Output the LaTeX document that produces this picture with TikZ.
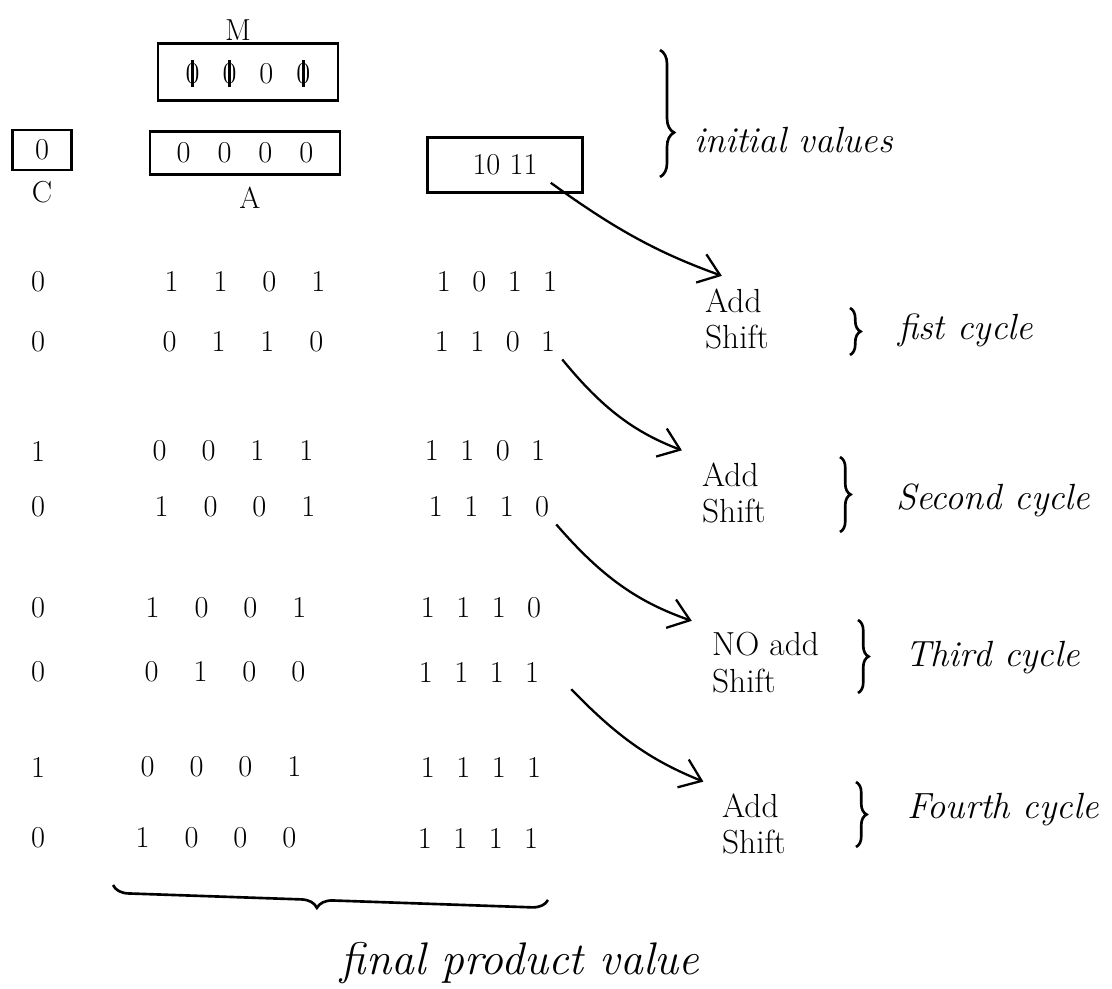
\documentclass[tikz,border=0pt]{standalone}
\usetikzlibrary{arrows.meta,decorations.pathreplacing}

% a zero with a bar through it
\newcommand{\xo}{\ooalign{\hidewidth\rule[-.12em]{.09em}{.9em}\hidewidth\cr 0\cr}}

\begin{document}
\begin{tikzpicture}[x=0.02cm,y=-0.02cm,line width=1.5pt,
  reg/.style={draw,rectangle,font=\LARGE},
  lbl/.style={font=\LARGE},
  bits/.style={font={\LARGE\spaceskip=#1\relax}},
  op/.style={font=\fontsize{19}{21}\selectfont,align=left,anchor=west},
  cyc/.style={font=\huge\itshape,anchor=west},
  arr/.style={-{Straight Barb[length=4mm,width=6mm]},line width=1.3pt,shorten >=#1},
  curly/.style={decorate,decoration={brace,amplitude=#1}}]
\useasboundingbox (0,0) rectangle (1112,989);

% registers before the first cycle
\node[lbl] (mlab) at (238,30) {M};
\node[reg,minimum width=3.6cm,minimum height=1.14cm,bits=0.46cm] (mreg) at (248,72) {\xo{} \xo{} 0 \xo};
\node[reg,minimum width=1.18cm,minimum height=0.8cm] (creg) at (42,150) {0};
\node[lbl] (clab) at (42,192) {C};
\node[reg,minimum width=3.8cm,minimum height=0.86cm,bits=0.54cm] (areg) at (245,153) {0 0 0 0};
\node[lbl] (alab) at (250,198) {A};
\node[reg,minimum width=3.1cm,minimum height=1.1cm] (qreg) at (505,165) {10 11};
\draw[curly=8pt,decoration={aspect=0.65}] (660,50) -- (660,177);
\node[cyc] (init) at (687,140) {initial values};

% C, A and Q after every add and shift
\foreach \n/\y/\c/\xa/\a/\xq/\q in {
  1/282/0/245/1 1 0 1/497/1 0 1 1,
  2/342/0/243/0 1 1 0/495/1 1 0 1,
  3/451/1/233/0 0 1 1/485/1 1 0 1,
  4/507/0/235/1 0 0 1/489/1 1 1 0,
  5/608/0/226/1 0 0 1/481/1 1 1 0,
  6/672/0/225/0 1 0 0/479/1 1 1 1,
  7/767/1/221/0 0 0 1/481/1 1 1 1,
  8/838/0/216/1 0 0 0/478/1 1 1 1}{
  \node[lbl] (c\n) at (38,\y) {\c};
  \node[bits=0.7cm] (a\n) at (\xa,\y) {\a};
  \node[bits=0.43cm] (q\n) at (\xq,\y) {\q};
}

% operations of each cycle
\node[op] (op1) at (698,319) {Add\\Shift};
\node[op] (op2) at (695,493) {Add\\Shift};
\node[op] (op3) at (705,663) {NO add\\Shift};
\node[op] (op4) at (715,824) {Add\\Shift};

\draw[curly=6pt] (850,308) -- (850,355);
\draw[curly=6pt] (840,457) -- (840,532);
\draw[curly=6pt] (858,620) -- (858,693);
\draw[curly=6pt] (856,782) -- (856,847);
\node[cyc] (cyc1) at (891,330) {fist cycle};
\node[cyc] (cyc2) at (889,500) {Second cycle};
\node[cyc] (cyc3) at (898,658) {Third cycle};
\node[cyc] (cyc4) at (900,810) {Fourth cycle};

\draw[arr=0.32cm] ([xshift=-0.66cm,yshift=0.22cm]qreg.south east) to[bend right=8] (op1.north);
\draw[arr=0.28cm] (q2.south east) to[bend right=15] (op2.north west);
\draw[arr=0.28cm] (q4.south east) to[bend right=15] (op3.north west);
\draw[arr=0.25cm] ([xshift=0.5cm]q6.south east) to[bend right=12] (op4.north west);

% result
\draw[curly=9pt,decoration={mirror,aspect=0.47}] (113,885) -- (548,900);
\node[font=\fontsize{26}{31}\selectfont\itshape] (prod) at (520,963) {final product value};
\end{tikzpicture}
\end{document}
